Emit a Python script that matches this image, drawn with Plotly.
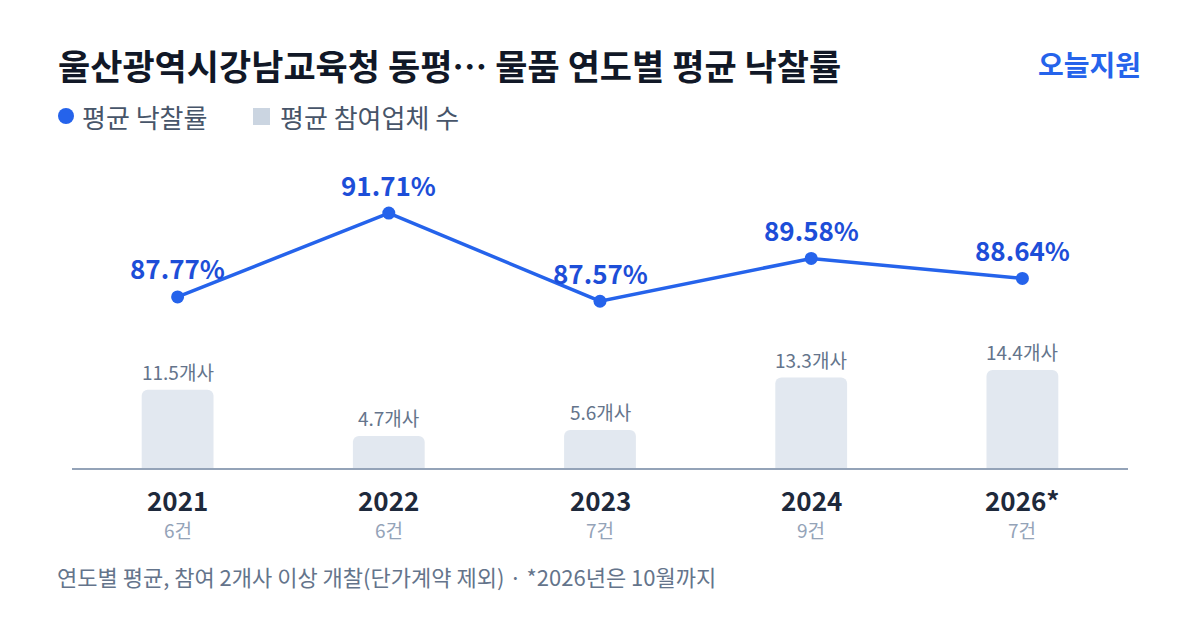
import plotly.graph_objects as go

years = ["2021", "2022", "2023", "2024", "2026*"]
rates = [87.77, 91.71, 87.57, 89.58, 88.64]
bidders = [11.5, 4.7, 5.6, 13.3, 14.4]
counts = ["6건", "6건", "7건", "9건", "7건"]

title = "울산광역시강남교육청 동평… 물품 연도별 평균 낙찰률"
brand = "오늘지원"
legend_rate = "평균 낙찰률"
legend_bid = "평균 참여업체 수"
footnote = "연도별 평균, 참여 2개사 이상 개찰(단가계약 제외) · *2026년은 10월까지"

FONT = "Noto Sans CJK KR"
W, H = 1200, 630
L, R, T, B = 72, 72, 150, 162
PW, PH = W - L - R, H - T - B


def px(x):
    return (x - L) / PW


def py(y):
    return (H - B - y) / PH


fig = go.Figure()

fig.add_trace(go.Bar(
    x=years, y=bidders, width=0.34,
    marker=dict(color="#e2e8f0", line=dict(width=0)),
    yaxis="y", showlegend=False, hoverinfo="skip",
))
fig.add_trace(go.Scatter(
    x=years, y=rates, mode="lines+markers",
    line=dict(color="#2563eb", width=3.5),
    marker=dict(color="#2563eb", size=13),
    yaxis="y2", showlegend=False, hoverinfo="skip",
))

ann = []
for i, r in enumerate(rates):
    ann.append(dict(x=i, y=r, xref="x", yref="y2", text=f"<b>{r:.2f}%</b>",
                    showarrow=False, yanchor="middle", yshift=29,
                    font=dict(family=FONT, size=26, color="#1d4ed8")))
for i, b in enumerate(bidders):
    ann.append(dict(x=i, y=b, xref="x", yref="y", text=f"{b}개사",
                    showarrow=False, yanchor="bottom", yshift=3,
                    font=dict(family=FONT, size=19, color="#64748b")))
for i, (yr, c) in enumerate(zip(years, counts)):
    ann.append(dict(x=i, y=0, xref="x", yref="paper", text=f"<b>{yr}</b>",
                    showarrow=False, yanchor="middle", yshift=-31,
                    font=dict(family=FONT, size=26, color="#1e293b")))
    ann.append(dict(x=i, y=0, xref="x", yref="paper", text=c,
                    showarrow=False, yanchor="middle", yshift=-61,
                    font=dict(family=FONT, size=19, color="#94a3b8")))

ann.append(dict(x=px(56), y=py(64), xref="paper", yref="paper", text=f"<b>{title}</b>",
                showarrow=False, xanchor="left", yanchor="middle",
                font=dict(family=FONT, size=35, color="#111827")))
ann.append(dict(x=px(1143), y=py(64), xref="paper", yref="paper", text=f"<b>{brand}</b>",
                showarrow=False, xanchor="right", yanchor="middle",
                font=dict(family=FONT, size=28, color="#2563eb")))
ann.append(dict(x=px(80), y=py(116), xref="paper", yref="paper", text=legend_rate,
                showarrow=False, xanchor="left", yanchor="middle",
                font=dict(family=FONT, size=26, color="#475569")))
ann.append(dict(x=px(278), y=py(116), xref="paper", yref="paper", text=legend_bid,
                showarrow=False, xanchor="left", yanchor="middle",
                font=dict(family=FONT, size=26, color="#475569")))
ann.append(dict(x=px(55), y=py(576), xref="paper", yref="paper", text=footnote,
                showarrow=False, xanchor="left", yanchor="middle",
                font=dict(family=FONT, size=22, color="#64748b")))

shapes = [
    dict(type="circle", xref="paper", yref="paper",
         x0=px(58), x1=px(74), y0=py(124), y1=py(108),
         fillcolor="#2563eb", line=dict(width=0)),
    dict(type="rect", xref="paper", yref="paper",
         x0=px(253), x1=px(270), y0=py(125), y1=py(108),
         fillcolor="#cbd5e1", line=dict(width=0)),
]

fig.update_layout(
    width=W, height=H,
    margin=dict(l=L, r=R, t=T, b=B, pad=0),
    paper_bgcolor="white", plot_bgcolor="white",
    barcornerradius=6,
    font=dict(family=FONT),
    xaxis=dict(type="category", range=[-0.5, 4.5], showticklabels=False,
               showgrid=False, zeroline=False, ticks="",
               showline=True, linecolor="#94a3b8", linewidth=2),
    yaxis=dict(range=[0, PH / 6.8], visible=False, showgrid=False, zeroline=False),
    yaxis2=dict(range=[79.74, 94.67], overlaying="y", visible=False,
                showgrid=False, zeroline=False),
    annotations=ann, shapes=shapes,
)

fig.write_html("out.html")
